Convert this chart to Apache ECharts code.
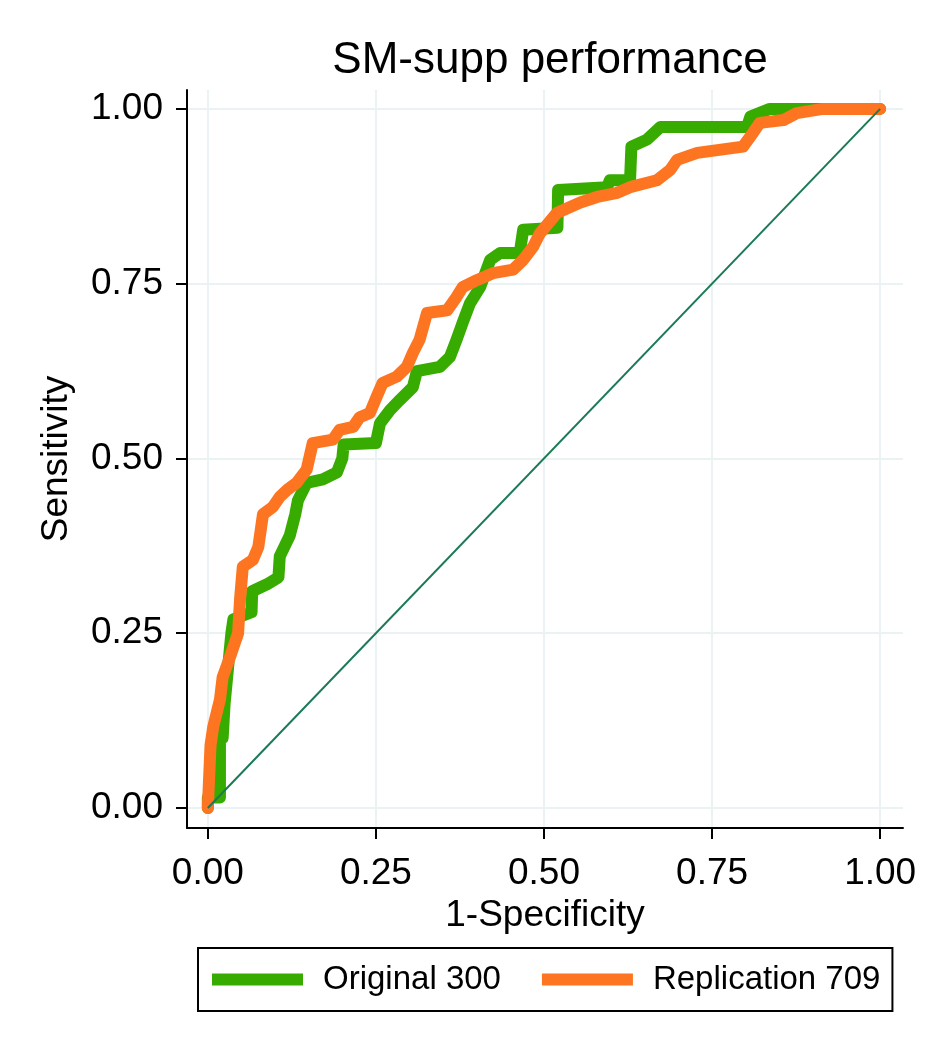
<!DOCTYPE html>
<html>
<head>
<meta charset="utf-8">
<script src="https://cdn.jsdelivr.net/npm/echarts@6/dist/echarts.min.js"></script>
<style>
  html, body { margin: 0; padding: 0; background: #fff; }
  #chart { width: 934px; height: 1050px; }
</style>
</head>
<body>
<div id="chart"></div>
<script>
// ROC points [1-specificity, sensitivity]
const originalRoc = [
  [0, 0], [0, 0.015], [0.018, 0.015], [0.018, 0.1], [0.022, 0.1], [0.025, 0.15],
  [0.03, 0.2], [0.035, 0.25], [0.038, 0.27], [0.065, 0.28], [0.066, 0.31],
  [0.088, 0.32], [0.105, 0.33], [0.107, 0.36], [0.122, 0.39], [0.13, 0.42],
  [0.134, 0.44], [0.147, 0.465], [0.171, 0.47], [0.192, 0.48], [0.2, 0.5],
  [0.202, 0.52], [0.25, 0.522], [0.256, 0.55], [0.271, 0.569], [0.286, 0.584],
  [0.305, 0.602], [0.311, 0.625], [0.345, 0.631], [0.36, 0.645], [0.37, 0.67],
  [0.379, 0.694], [0.39, 0.722], [0.405, 0.745], [0.42, 0.784], [0.435, 0.794],
  [0.464, 0.794], [0.469, 0.827], [0.52, 0.83], [0.521, 0.884], [0.594, 0.888],
  [0.598, 0.898], [0.628, 0.898], [0.63, 0.946], [0.653, 0.956], [0.673, 0.974],
  [0.802, 0.974], [0.807, 0.989], [0.836, 1.0], [1, 1]
];
const replicationRoc = [
  [0, 0], [0.004, 0.09], [0.008, 0.116], [0.018, 0.155], [0.022, 0.187],
  [0.033, 0.216], [0.045, 0.25], [0.048, 0.3], [0.052, 0.345], [0.067, 0.355],
  [0.075, 0.373], [0.082, 0.42], [0.097, 0.431], [0.107, 0.445], [0.118, 0.455],
  [0.132, 0.465], [0.147, 0.484], [0.156, 0.522], [0.186, 0.527], [0.196, 0.541],
  [0.216, 0.545], [0.226, 0.559], [0.241, 0.565], [0.251, 0.588], [0.26, 0.608],
  [0.281, 0.617], [0.296, 0.631], [0.305, 0.651], [0.315, 0.67], [0.326, 0.708],
  [0.356, 0.712], [0.37, 0.731], [0.379, 0.745], [0.4, 0.755], [0.424, 0.765],
  [0.454, 0.77], [0.469, 0.784], [0.484, 0.803], [0.494, 0.822], [0.519, 0.851],
  [0.554, 0.866], [0.579, 0.874], [0.609, 0.88], [0.628, 0.888], [0.668, 0.898],
  [0.688, 0.913], [0.698, 0.927], [0.728, 0.937], [0.796, 0.946], [0.811, 0.966],
  [0.821, 0.98], [0.856, 0.984], [0.876, 0.994], [0.915, 1], [1, 1]
];
const referenceLine = [[0, 0], [1, 1]];
const tickValues = [0, 0.25, 0.5, 0.75, 1];
const seriesNames = ["Original 300", "Replication 709"];

const font = "'Liberation Sans', Arial, sans-serif";
const chart = echarts.init(document.getElementById("chart"), null, { renderer: "canvas" });

const axisCommon = {
  type: "value",
  axisLine: { show: true, onZero: false, lineStyle: { color: "#000", width: 2 } },
  axisTick: { show: true, length: 11, lineStyle: { color: "#000", width: 2 }, customValues: tickValues },
  axisLabel: {
    customValues: tickValues,
    color: "#000",
    fontFamily: font,
    fontSize: 37,
    formatter: (v) => v.toFixed(2),
  },
  splitLine: { show: true, lineStyle: { color: "#eaf2f3", width: 2 } },
  nameLocation: "middle",
  nameTextStyle: { color: "#000", fontFamily: font, fontSize: 37 },
};

chart.setOption({
  animation: false,
  backgroundColor: "#fff",
  title: {
    text: "SM-supp performance",
    left: 545,
    top: 34,
    textAlign: "center",
    textStyle: { color: "#000", fontFamily: font, fontSize: 44, fontWeight: "normal" },
  },
  grid: { left: 187, right: 31, top: 90, bottom: 222 },
  xAxis: {
    ...axisCommon,
    min: -0.031,
    max: 1.034,
    name: "1-Specificity",
    nameGap: 62,
    axisLabel: { ...axisCommon.axisLabel, margin: 27 },
  },
  yAxis: {
    ...axisCommon,
    min: -0.0286,
    max: 1.027,
    name: "Sensitivity",
    nameGap: 112,
    nameRotate: 90,
    axisLabel: { ...axisCommon.axisLabel, margin: 24 },
  },
  legend: {
    data: seriesNames,
    left: 198,
    top: 948,
    orient: "horizontal",
    icon: "rect",
    itemWidth: 91,
    itemHeight: 12,
    itemGap: 41,
    padding: [15, 12, 15, 14],
    borderColor: "#000",
    borderWidth: 2,
    textStyle: { color: "#000", fontFamily: font, fontSize: 33, padding: [0, 0, 0, 15] },
  },
  series: [
    {
      name: seriesNames[0],
      type: "line",
      data: originalRoc,
      symbol: "none",
      lineStyle: { color: "#38ab00", width: 12, cap: "round", join: "round" },
      itemStyle: { color: "#38ab00" },
      z: 2,
    },
    {
      name: seriesNames[1],
      type: "line",
      data: replicationRoc,
      symbol: "none",
      lineStyle: { color: "#fe7521", width: 12, cap: "round", join: "round" },
      itemStyle: { color: "#fe7521" },
      z: 3,
    },
    {
      name: "reference",
      type: "line",
      data: referenceLine,
      symbol: "none",
      lineStyle: { color: "#1a7a55", width: 2 },
      itemStyle: { color: "#1a7a55" },
      z: 4,
    },
  ],
});
</script>
</body>
</html>
